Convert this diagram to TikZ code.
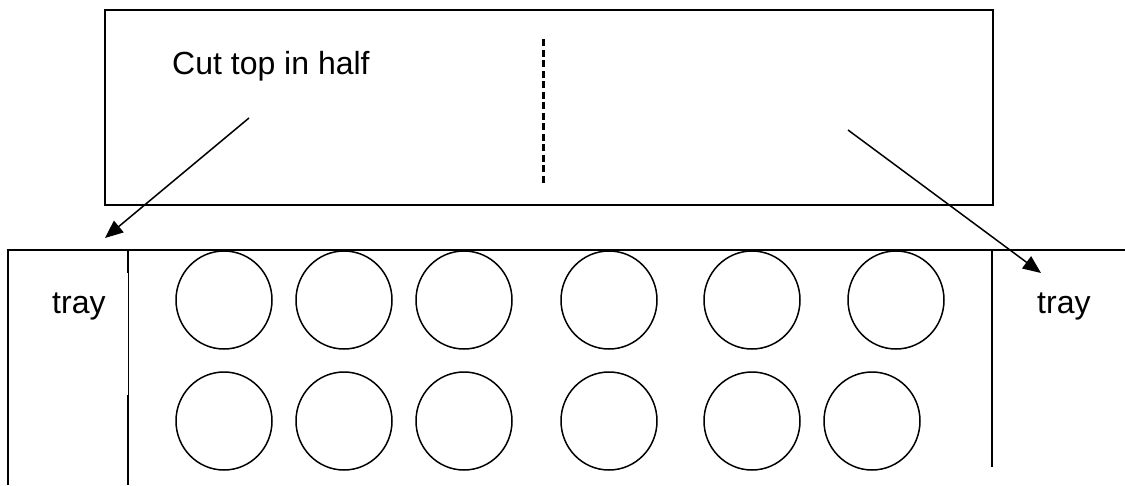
\documentclass[tikz,border=0pt]{standalone}
\usepackage{fontspec}
\setmainfont{Liberation Sans}
\usetikzlibrary{arrows.meta,shapes.geometric}
\begin{document}
\begin{tikzpicture}[x=1pt,y=-1pt,
  line/.style={line width=1.8pt},
  label/.style={inner sep=0pt,anchor=base west,font=\fontsize{32}{38}\selectfont},
  egg/.style={line width=1.5pt,draw,ellipse,minimum width=96pt,minimum height=98pt,inner sep=0pt},
  arr/.style={line width=1.5pt,-{Triangle[length=18pt,width=15pt]}}]
\useasboundingbox (0,0) rectangle (1125,485);
% top lid
\draw[line] (105,10) rectangle (993,205);
\draw[line width=3pt,dash pattern=on 7pt off 3.5pt] (543,39) -- (543,184);
\node[label] (cut) at (172,74) {Cut top in half};
% tray
\draw[line] (8,485) -- (8,250) -- (1125,250);
\draw[line] (128,250) -- (128,273);
\draw[line width=0.6pt] (128,273) -- (128,395);
\draw[line] (128,395) -- (128,485);
\draw[line] (992,250) -- (992,467);
\node[label] (trayL) at (52,313) {tray};
\node[label] (trayR) at (1037,313) {tray};
% wells
\foreach \x [count=\i] in {224,344,464,609,752,896}
  \node[egg] (a\i) at (\x,300) {};
\foreach \x [count=\i] in {224,344,464,609,752,872}
  \node[egg] (b\i) at (\x,421) {};
% arrows
\coordinate (s1) at (249,118);
\coordinate (t1) at (105,238);
\coordinate (s2) at (848,130);
\coordinate (t2) at (1041,273);
\draw[arr] (s1) -- (t1);
\draw[arr] (s2) -- (t2);
\end{tikzpicture}
\end{document}
